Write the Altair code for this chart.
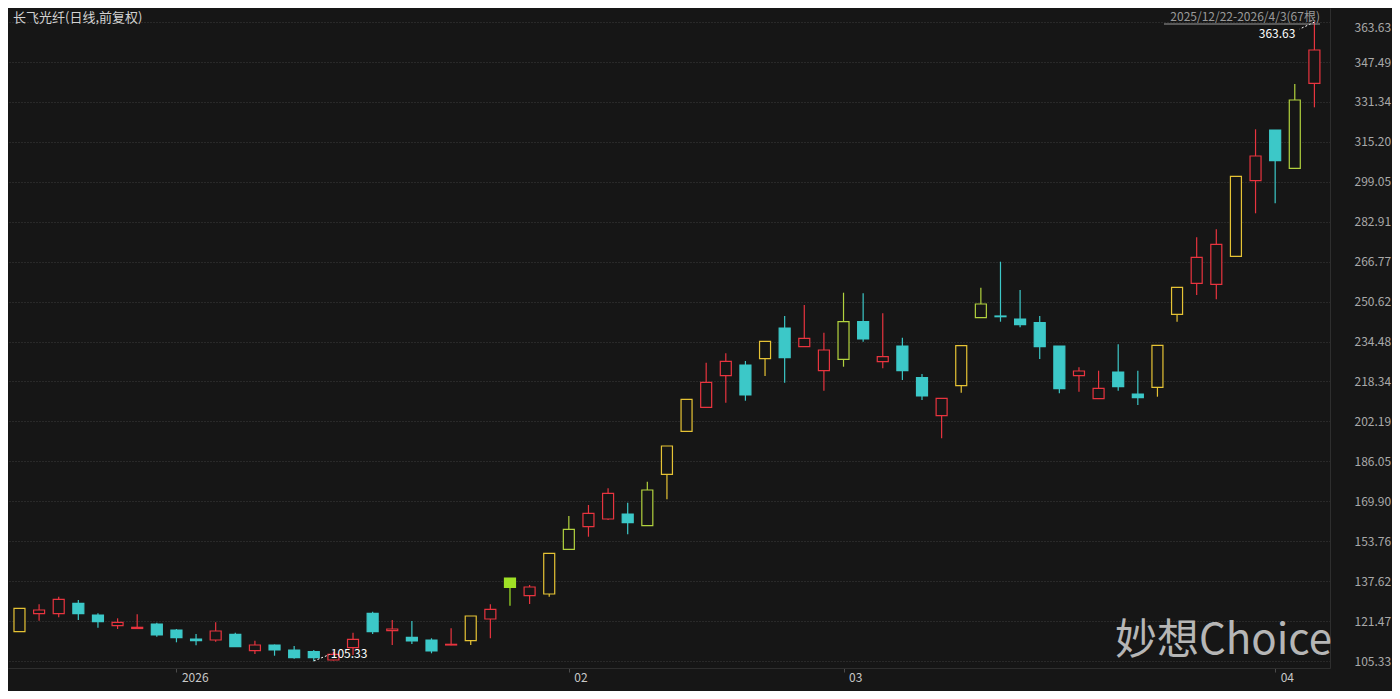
import altair as alt
import pandas as pd

# ---- data (67 daily candles, 2025/12/22 - 2026/4/3) ----
opens = [117.18, 124.45, 124.45, 128.66, 123.93, 119.60, 118.47, 120.29, 117.86, 114.22,
         113.82, 116.12, 109.49, 111.80, 109.78, 109.09, 105.73, 110.71, 124.61, 117.58,
         114.91, 113.82, 111.80, 113.54, 122.31, 135.13, 131.73, 132.42, 150.49, 159.62,
         162.74, 164.76, 160.03, 180.81, 198.19, 207.90, 220.67, 225.00, 227.54, 239.96,
         232.39, 222.69, 227.30, 242.50, 226.33, 232.68, 219.86, 204.50, 216.63, 244.12,
         244.81, 243.59, 242.10, 232.68, 220.67, 211.37, 222.17, 213.27, 215.98, 245.49,
         258.03, 257.62, 268.94, 299.51, 320.00, 304.52, 338.88]
highs = [126.64, 128.25, 131.33, 129.99, 124.61, 122.59, 124.21, 120.81, 118.27, 116.25,
         120.98, 116.77, 113.54, 112.00, 111.39, 109.78, 109.09, 116.77, 125.26, 121.91,
         121.50, 114.51, 118.55, 123.52, 128.25, 138.89, 136.06, 148.87, 163.95, 168.40,
         175.15, 169.33, 177.82, 192.25, 211.13, 225.93, 229.73, 226.61, 234.58, 244.81,
         249.25, 238.06, 254.23, 253.98, 245.90, 236.03, 221.36, 211.53, 232.80, 256.25,
         266.76, 255.32, 244.81, 232.68, 224.07, 222.69, 233.37, 222.69, 232.96, 256.41,
         276.62, 279.86, 301.28, 320.29, 320.00, 338.60, 363.63]
lows = [117.18, 121.62, 123.00, 121.91, 118.79, 118.27, 118.27, 115.15, 112.89, 111.68,
        113.13, 110.99, 108.16, 107.47, 106.26, 105.33, 105.53, 107.76, 116.25, 111.80,
        112.20, 108.44, 111.68, 111.80, 114.51, 127.69, 128.37, 131.33, 150.49, 155.58,
        162.33, 156.55, 160.03, 170.70, 198.19, 207.90, 209.76, 210.56, 220.55, 217.84,
        232.39, 214.61, 224.31, 234.42, 223.66, 218.93, 210.85, 195.36, 213.80, 244.12,
        242.50, 240.24, 227.42, 213.55, 214.20, 211.37, 214.61, 208.83, 212.18, 242.50,
        253.30, 251.56, 268.94, 286.33, 290.37, 304.52, 329.18]
closes = [126.64, 125.95, 130.27, 124.45, 121.22, 120.98, 118.95, 115.84, 114.75, 113.54,
          117.46, 111.11, 111.80, 109.78, 106.66, 106.66, 108.04, 114.10, 117.18, 118.27,
          113.42, 109.37, 112.08, 123.52, 126.23, 138.89, 135.25, 148.87, 158.57, 165.04,
          173.13, 161.24, 174.46, 192.25, 211.13, 218.00, 226.49, 212.87, 234.58, 227.95,
          235.79, 231.06, 242.50, 235.51, 228.35, 222.69, 212.46, 211.53, 232.80, 249.66,
          244.52, 241.29, 232.39, 215.42, 222.57, 215.58, 216.22, 211.78, 232.96, 256.41,
          268.54, 273.79, 301.28, 309.49, 307.59, 332.13, 352.35]
kinds = ["limit", "up", "up", "down", "down", "up", "up", "down", "down", "down",
         "up", "down", "up", "down", "down", "down", "up", "up", "down", "up",
         "down", "down", "up", "limit", "up", "limitfill", "up", "limit", "strong", "up",
         "up", "down", "strong", "limit", "limit", "up", "up", "down", "limit", "down",
         "up", "up", "strong", "down", "up", "down", "down", "up", "limit", "strong",
         "down", "down", "down", "down", "up", "up", "down", "down", "limit", "limit",
         "up", "up", "limit", "up", "down", "strong", "up"]

y_ticks = [105.33, 121.47, 137.62, 153.76, 169.90, 186.05, 202.19, 218.34, 234.48,
           250.62, 266.77, 282.91, 299.05, 315.20, 331.34, 347.49, 363.63]
month_idx = [8, 28, 42, 64]
month_labels = ["2026", "02", "03", "04"]

title_text = "长飞光纤(日线,前复权)"
range_text = "2025/12/22-2026/4/3(67根)"
watermark = "妙想Choice"

# ---- styles ----
BG = "#161616"
FONT = "Noto Sans CJK SC"
stroke_map = {"up": "#e8343f", "down": "#3cc8c8", "limit": "#e6c335",
              "strong": "#b2d23e", "limitfill": "#9fe026"}
fill_map = {"up": BG, "down": "#3cc8c8", "limit": BG, "strong": BG, "limitfill": "#9fe026"}

df = pd.DataFrame({
    "i": list(range(len(opens))),
    "open": opens, "high": highs, "low": lows, "close": closes, "kind": kinds,
})
df["sc"] = df["kind"].map(stroke_map)
df["fc"] = df["kind"].map(fill_map)

W, H = 1322, 660
xs = alt.Scale(domain=[-0.33, 66.54], nice=False, zero=False)
ys = alt.Scale(domain=[102.50, 369.33], nice=False, zero=False)

label_expr = " : ".join(
    f"datum.value == {v} ? '{t}'" for v, t in zip(month_idx, month_labels)) + " : ''"

x_axis = alt.Axis(values=month_idx, labelExpr=label_expr, grid=False, ticks=True,
                  tickSize=4, tickColor="#4a4a4a", domainColor="#2e2e2e",
                  labelColor="#c8c8c8", labelFontSize=12, labelFont=FONT,
                  labelAlign="left", labelBaseline="top", labelOffset=5,
                  labelPadding=0, title=None)
y_axis = alt.Axis(orient="right", values=y_ticks, format=".2f", grid=True,
                  gridColor="#3c3c3c", gridDash=[1, 2], ticks=False,
                  domainColor="#2e2e2e", labelColor="#a9a9a9", labelFontSize=12,
                  labelFont=FONT, labelPadding=24, title=None,
                  labelBaseline={"condition": {"test": "datum.value > 360", "value": "top"},
                                 "value": "middle"})

base = alt.Chart(df)

wicks = base.mark_rule(strokeWidth=1.2).encode(
    x=alt.X("i:Q", scale=xs, axis=x_axis),
    y=alt.Y("low:Q", scale=ys, axis=y_axis),
    y2="high:Q",
    color=alt.Color("sc:N", scale=None),
)

bodies = base.mark_bar(width=11, strokeWidth=1.2).encode(
    x=alt.X("i:Q", scale=xs),
    y=alt.Y("open:Q", scale=ys),
    y2="close:Q",
    fill=alt.Fill("fc:N", scale=None),
    stroke=alt.Stroke("sc:N", scale=None),
)

# extreme annotations
i_max = highs.index(max(highs))
i_min = lows.index(min(lows))
ann_max = pd.DataFrame({"i": [i_max], "v": [highs[i_max]], "i2": [i_max - 0.75],
                        "v2": [highs[i_max] - 2.8], "t": [f"{highs[i_max]:.2f}"]})
ann_min = pd.DataFrame({"i": [i_min], "v": [lows[i_min]], "i2": [i_min + 0.8],
                        "v2": [lows[i_min] + 2.6], "t": [f"{lows[i_min]:.2f}"]})

max_line = alt.Chart(ann_max).mark_rule(color="#ffffff", strokeDash=[2, 2], strokeWidth=1).encode(
    x=alt.X("i:Q", scale=xs), x2="i2:Q", y=alt.Y("v:Q", scale=ys), y2="v2:Q")
max_text = alt.Chart(ann_max).mark_text(color="#ffffff", fontSize=12, font=FONT,
                                        align="right", baseline="middle", dx=-19, dy=12).encode(
    x=alt.X("i:Q", scale=xs), y=alt.Y("v:Q", scale=ys), text="t:N")
min_line = alt.Chart(ann_min).mark_rule(color="#ffffff", strokeDash=[2, 2], strokeWidth=1).encode(
    x=alt.X("i:Q", scale=xs), x2="i2:Q", y=alt.Y("v:Q", scale=ys), y2="v2:Q")
min_text = alt.Chart(ann_min).mark_text(color="#ffffff", fontSize=12, font=FONT,
                                        align="left", baseline="middle", dx=17, dy=-7).encode(
    x=alt.X("i:Q", scale=xs), y=alt.Y("v:Q", scale=ys), text="t:N")

# header texts and watermark
title = alt.Chart(pd.DataFrame({"t": [title_text]})).mark_text(
    color="#d2d2d2", fontSize=13, font=FONT, align="left", baseline="middle").encode(
    x=alt.value(5), y=alt.value(10), text="t:N")
rng = alt.Chart(pd.DataFrame({"t": [range_text]})).mark_text(
    color="#9a9a9a", fontSize=12, font=FONT, align="right", baseline="middle").encode(
    x=alt.value(1312), y=alt.value(9), text="t:N")
rng_line = alt.Chart(pd.DataFrame({"t": [range_text]})).mark_rule(
    color="#9a9a9a", strokeWidth=1).encode(
    x=alt.value(1156), x2=alt.value(1312), y=alt.value(16))
wm = alt.Chart(pd.DataFrame({"t": [watermark]})).mark_text(
    color="#c8c8c8", fontSize=42, font=FONT, align="left", baseline="alphabetic",
    opacity=0.9).encode(x=alt.value(1107), y=alt.value(646), text="t:N")

chart = alt.layer(
    wicks, bodies, max_line, max_text, min_line, min_text, title, rng, rng_line, wm
).properties(
    width=W, height=H,
    autosize=alt.AutoSizeParams(type="none"),
    padding={"left": 0, "top": 0, "right": 62, "bottom": 23},
    background=BG,
).configure_view(stroke=None)

chart.save("out.html", embed_options={"renderer": "svg", "actions": False})
